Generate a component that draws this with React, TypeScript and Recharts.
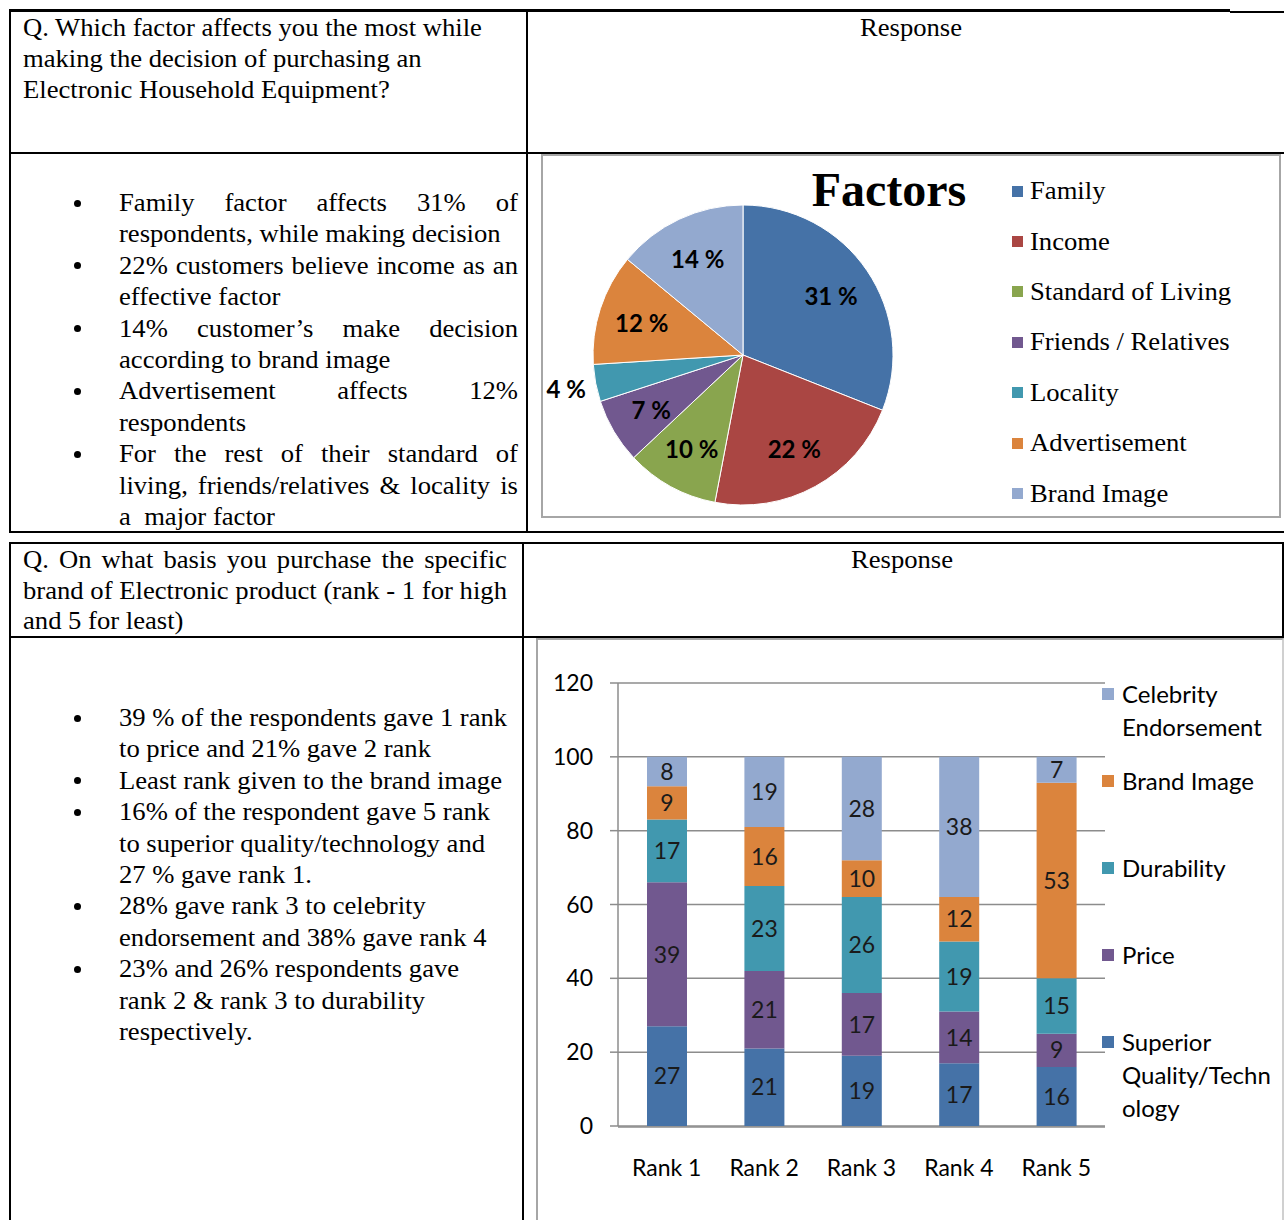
import { PieChart, Pie, Cell, Legend, BarChart, Bar, XAxis, YAxis, CartesianGrid, LabelList } from 'recharts'

// pie: factors
const factorNames = ['Family', 'Income', 'Standard of Living', 'Friends / Relatives', 'Locality', 'Advertisement', 'Brand Image']
const factorShares = [31, 22, 10, 7, 4, 12, 14]
const factorColors = ['#4572a7', '#aa4643', '#89a54e', '#71588f', '#4198af', '#db843d', '#93a9cf']

// stacked bars: ranking of purchase basis
const ranks = ['Rank 1', 'Rank 2', 'Rank 3', 'Rank 4', 'Rank 5']
const superiorQuality = [27, 21, 19, 17, 16]
const price = [39, 21, 17, 14, 9]
const durability = [17, 23, 26, 19, 15]
const brandImage = [9, 16, 10, 12, 53]
const celebrity = [8, 19, 28, 38, 7]
const yTicks = [0, 20, 40, 60, 80, 100, 120]

const series = [
  { key: 'superior', name: 'Superior Quality/Technology', lines: ['Superior', 'Quality/Techn', 'ology'], color: '#4572a7', values: superiorQuality },
  { key: 'price', name: 'Price', lines: ['Price'], color: '#71588f', values: price },
  { key: 'durability', name: 'Durability', lines: ['Durability'], color: '#4198af', values: durability },
  { key: 'brand', name: 'Brand Image', lines: ['Brand Image'], color: '#db843d', values: brandImage },
  { key: 'celebrity', name: 'Celebrity Endorsement', lines: ['Celebrity', 'Endorsement'], color: '#93a9cf', values: celebrity },
]

const pieData = factorNames.map((name, i) => ({ name, share: factorShares[i] }))
const rankData = ranks.map((rank, i) => {
  const row: Record<string, string | number> = { rank }
  series.forEach(s => { row[s.key] = s.values[i] })
  return row
})

const question1 = ['Q. Which factor affects you the most while', 'making the decision of purchasing an', 'Electronic Household Equipment?']
const question2 = ['Q. On what basis you purchase the specific', 'brand of Electronic product (rank - 1 for high', 'and 5 for least)']
const bullets1 = [
  ['Family factor affects 31% of', 'respondents, while making decision'],
  ['22% customers believe income as an', 'effective factor'],
  ['14% customer\u2019s make decision', 'according to brand image'],
  ['Advertisement affects 12%', 'respondents'],
  ['For the rest of their standard of', 'living, friends/relatives & locality is', 'a  major factor'],
]
const bullets2 = [
  ['39 % of the respondents gave 1 rank', 'to price and 21% gave 2 rank'],
  ['Least rank given to the brand image'],
  ['16% of the respondent gave 5 rank', 'to superior quality/technology and', '27 % gave rank 1.'],
  ['28% gave rank 3 to celebrity', 'endorsement and 38% gave rank 4'],
  ['23% and 26% respondents gave', 'rank 2 & rank 3 to durability', 'respectively.'],
]

const SERIF = '"Liberation Serif", "Times New Roman", serif'
const SANS = 'Lato, "Open Sans", sans-serif'
const FS = 25
const SX = 1.065
const LH = 31.4

function TextLine({ x, y, text, width, justify }: { x: number; y: number; text: string; width?: number; justify?: boolean }) {
  const base: React.CSSProperties = {
    position: 'absolute', left: x, top: y - 17, height: 34, lineHeight: '34px',
    fontFamily: SERIF, fontSize: FS, color: '#000', whiteSpace: 'pre',
    transform: `scaleX(${SX})`, transformOrigin: 'left center',
  }
  if (justify && width) {
    return (
      <div style={{ ...base, width: width / SX, display: 'flex', justifyContent: 'space-between' }}>
        {text.split(/\s+/).map((w, i) => <span key={i}>{w}</span>)}
      </div>
    )
  }
  return <div style={base}>{text}</div>
}

function CenterText({ cx, y, text }: { cx: number; y: number; text: string }) {
  return (
    <div style={{ position: 'absolute', left: cx - 100, width: 200, top: y - 17, height: 34, lineHeight: '34px', textAlign: 'center', fontFamily: SERIF, fontSize: FS, transform: `scaleX(${SX})` }}>
      {text}
    </div>
  )
}

function BulletList({ items, top, width, justify }: { items: string[][]; top: number; width: number; justify: boolean }) {
  const out: JSX.Element[] = []
  let row = 0
  items.forEach((lines, bi) => {
    out.push(<div key={`b${bi}`} style={{ position: 'absolute', left: 74, top: top + row * LH - 3.5, width: 7, height: 7, borderRadius: '50%', background: '#000' }} />)
    lines.forEach((t, li) => {
      const last = li === lines.length - 1
      out.push(<TextLine key={`l${bi}-${li}`} x={119} y={top + row * LH} text={t} width={width} justify={justify && !last} />)
      row++
    })
  })
  return <>{out}</>
}

function Rule({ l, t, w, h, c = '#000' }: { l: number; t: number; w: number; h: number; c?: string }) {
  return <div style={{ position: 'absolute', left: l, top: t, width: w, height: h, background: c }} />
}

const renderPieLabel = (p: any) => {
  const RAD = Math.PI / 180
  const r = p.percent < 0.05 ? p.outerRadius * 1.2 : p.outerRadius * 0.71
  const x = p.cx + r * Math.cos(-p.midAngle * RAD)
  const y = p.cy + r * Math.sin(-p.midAngle * RAD)
  return (
    <text x={x} y={y} textAnchor="middle" dominantBaseline="central" fill="#000" fontFamily={SANS} fontWeight="bold" fontSize={24}>
      {`${p.value} %`}
    </text>
  )
}

function PieLegend({ payload }: any) {
  const items = [...(payload || [])].sort((a: any, b: any) => factorNames.indexOf(a.value) - factorNames.indexOf(b.value))
  return (
    <div>
      {items.map((p: any) => (
        <div key={p.value} style={{ height: 50.4, display: 'flex', alignItems: 'center' }}>
          <span style={{ width: 11, height: 11, background: p.color, display: 'inline-block', marginRight: 7 }} />
          <span style={{ fontFamily: SERIF, fontSize: FS, color: '#000', whiteSpace: 'nowrap', display: 'inline-block', transform: `scaleX(${SX})`, transformOrigin: 'left center' }}>{p.value}</span>
        </div>
      ))}
    </div>
  )
}

function BarLegend({ payload }: any) {
  const colorOf: Record<string, string> = {}
  ;(payload || []).forEach((p: any) => { colorOf[p.value] = p.color })
  return (
    <div>
      {[...series].reverse().map(s => (
        <div key={s.key} style={{ height: 87, display: 'flex', alignItems: 'flex-start' }}>
          <span style={{ width: 12, height: 12, marginTop: 10.5, marginRight: 8, background: colorOf[s.name] || s.color, display: 'inline-block', flex: 'none' }} />
          <div style={{ fontFamily: SANS, fontSize: 24, lineHeight: '33px', color: '#000', whiteSpace: 'nowrap' }}>
            {s.lines.map(t => <div key={t}>{t}</div>)}
          </div>
        </div>
      ))}
    </div>
  )
}

export default function App() {
  return (
    <div style={{ position: 'absolute', left: 0, top: 0, width: 1284, height: 1220, background: '#fff', overflow: 'hidden' }}>
      {/* table 1 */}
      <Rule l={9} t={9} w={1221} h={3} />
      <Rule l={1230} t={11} w={54} h={2} />
      <Rule l={9} t={9} w={2} h={524} />
      <Rule l={526} t={9} w={2} h={524} />
      <Rule l={9} t={152} w={1275} h={2} />
      <Rule l={9} t={531} w={1275} h={2} />
      {/* table 2 */}
      <Rule l={9} t={542} w={1275} h={2} />
      <Rule l={9} t={542} w={2} h={678} />
      <Rule l={522} t={542} w={2} h={678} />
      <Rule l={9} t={636} w={1275} h={2} />
      <Rule l={1282} t={542} w={2} h={96} />

      {question1.map((t, i) => <TextLine key={t} x={23} y={28 + i * 31} text={t} />)}
      <CenterText cx={911} y={28} text="Response" />
      <BulletList items={bullets1} top={203} width={399} justify={true} />

      {question2.map((t, i) => <TextLine key={t} x={23} y={560 + i * 30.5} text={t} width={484} justify={i < 2} />)}
      <CenterText cx={902} y={560} text="Response" />
      <BulletList items={bullets2} top={718} width={399} justify={false} />

      {/* pie chart */}
      <div style={{ position: 'absolute', left: 541, top: 154, width: 740, height: 364, border: '2px solid #a6a6a6', boxSizing: 'border-box' }} />
      <div style={{ position: 'absolute', left: 541, top: 154 }}>
        <PieChart width={740} height={364} margin={{ top: 0, right: 0, bottom: 0, left: 0 }}>
          <Pie data={pieData} dataKey="share" nameKey="name" cx={202} cy={201} outerRadius={150}
            startAngle={90} endAngle={-270} label={renderPieLabel} labelLine={false}
            stroke="#fff" strokeWidth={1} isAnimationActive={false}>
            {pieData.map((d, i) => <Cell key={d.name} fill={factorColors[i]} />)}
          </Pie>
          <Legend layout="vertical" align="center" verticalAlign="middle" content={PieLegend}
            wrapperStyle={{ left: 471, top: 12, width: 268 }} />
        </PieChart>
        <div style={{ position: 'absolute', left: 348 - 100, width: 200, top: 8, textAlign: 'center', fontFamily: SERIF, fontWeight: 'bold', fontSize: 48, lineHeight: '56px' }}>
          Factors
        </div>
      </div>

      {/* bar chart */}
      <div style={{ position: 'absolute', left: 536, top: 638, width: 748, height: 600, borderLeft: '2px solid #a6a6a6', borderTop: '2px solid #a6a6a6', borderRight: '2px solid #d0d0d0', boxSizing: 'border-box' }} />
      <div style={{ position: 'absolute', left: 537, top: 639 }}>
        <BarChart width={747} height={581} data={rankData} margin={{ top: 44, right: 179, bottom: 0, left: 21 }} barSize={40}>
          <CartesianGrid vertical={false} stroke="#8c8c8c" strokeWidth={1.5} />
          {/* category labels (closest to plot, thin) */}
          <XAxis dataKey="rank" axisLine={false} tickLine={false} tickSize={0} tickMargin={34} height={1}
            tick={{ fill: '#000', fontSize: 23, fontFamily: SANS }} />
          {/* axis line with tick marks between categories */}
          <XAxis xAxisId="edge" type="number" domain={[0, 5]} ticks={[0, 1, 2, 3, 4, 5]} tick={false}
            tickSize={8} height={93} stroke="#8c8c8c" strokeWidth={1.5} />
          <YAxis domain={[0, 120]} ticks={yTicks} width={60} tickSize={8} tickMargin={17}
            stroke="#8c8c8c" strokeWidth={1.5} tick={{ fill: '#000', fontSize: 23, fontFamily: SANS }} />
          {series.map(s => (
            <Bar key={s.key} dataKey={s.key} name={s.name} stackId="a" fill={s.color} isAnimationActive={false}>
              <LabelList dataKey={s.key} position="center" fill="#1a1a1a" fontSize={23} fontFamily={SANS} />
            </Bar>
          ))}
          <Legend layout="vertical" align="center" verticalAlign="middle" content={BarLegend}
            wrapperStyle={{ left: 565, top: 38, width: 182 }} />
        </BarChart>
      </div>
    </div>
  )
}
